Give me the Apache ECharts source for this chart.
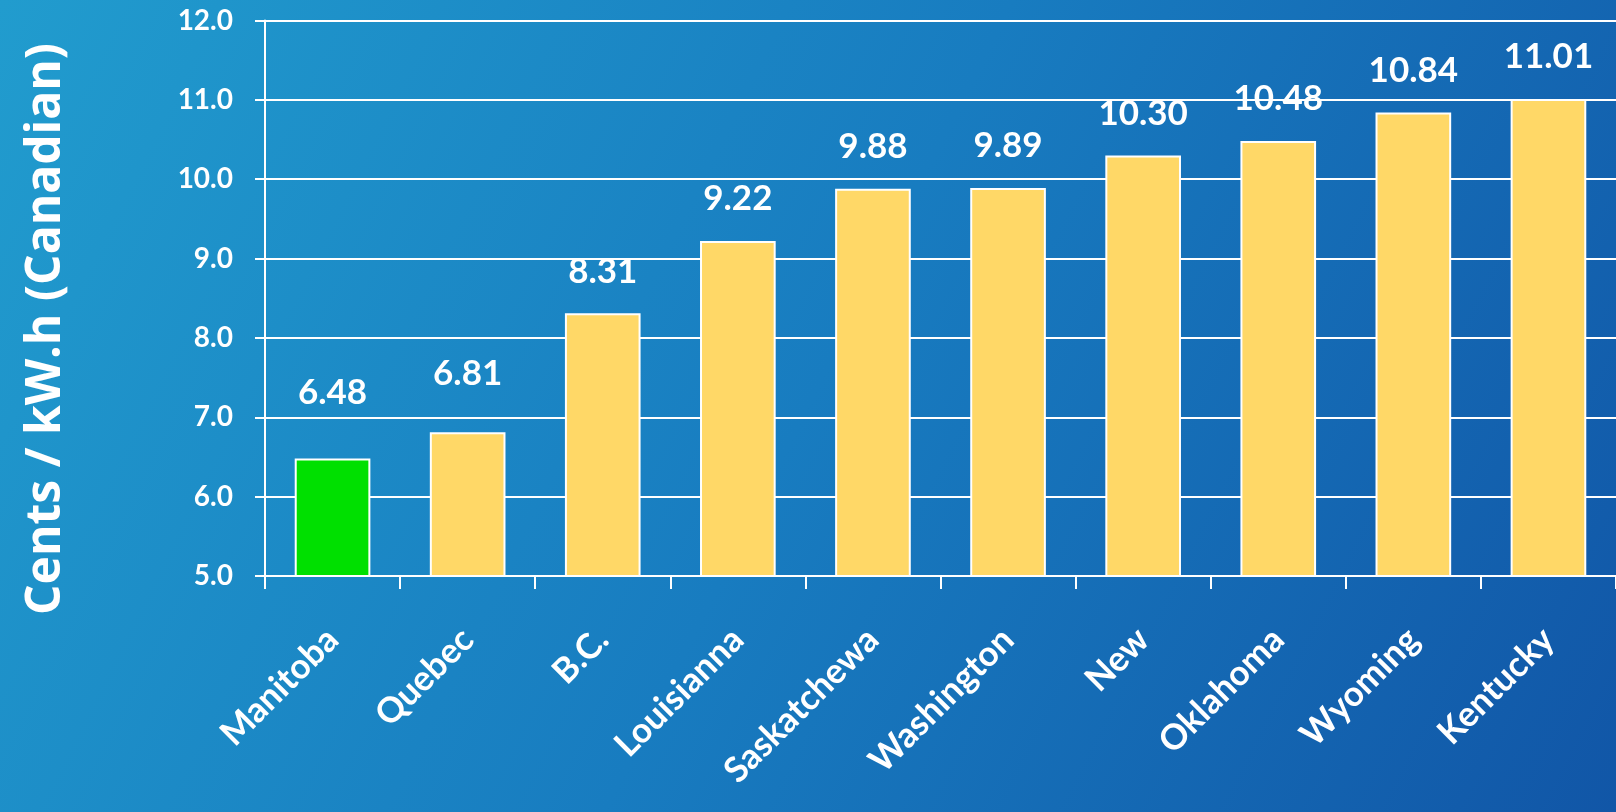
<!DOCTYPE html>
<html>
<head>
<meta charset="utf-8">
<script src="https://cdn.jsdelivr.net/npm/echarts@6/dist/echarts.min.js"></script>
<style>
  html, body { margin: 0; padding: 0; }
  #chart { width: 1616px; height: 812px; }
</style>
</head>
<body>
<div id="chart"></div>
<script>
// Residential electricity price comparison (cents per kW.h, Canadian dollars)
const regions = ['Manitoba', 'Quebec', 'B.C.', 'Louisianna', 'Saskatchewa', 'Washington', 'New', 'Oklahoma', 'Wyoming', 'Kentucky'];
const prices = [6.48, 6.81, 8.31, 9.22, 9.88, 9.89, 10.30, 10.48, 10.84, 11.01];
const yTicks = [5, 6, 7, 8, 9, 10, 11, 12];
const yTitle = 'Cents / kW.h (Canadian)';

const FONT = 'Lato, "Open Sans", sans-serif';
const HOME = '#00E000';
const OTHER = '#FFD867';
// extra lift for the first two value labels so they clear the gridlines
const labelDistance = [49, 42, 25, 25, 25, 25, 25, 25, 25, 25];

const chart = echarts.init(document.getElementById('chart'));

const barData = prices.map((v, i) => ({
  value: v,
  itemStyle: { color: i === 0 ? HOME : OTHER },
  label: { distance: labelDistance[i] }
}));

chart.setOption({
  backgroundColor: {
    type: 'linear', x: 0, y: 0, x2: 1, y2: 1,
    colorStops: [
      { offset: 0, color: '#219CCE' },
      { offset: 0.5, color: '#187CC0' },
      { offset: 1, color: '#1156A7' }
    ]
  },
  animation: false,
  grid: { left: 265, right: -4, top: 20.5, bottom: 236, containLabel: false },
  xAxis: {
    type: 'category',
    data: regions,
    axisLine: { lineStyle: { color: '#ffffff', width: 2 } },
    axisTick: { show: true, length: 13, alignWithLabel: false, lineStyle: { color: '#ffffff', width: 2 } },
    axisLabel: {
      rotate: 45,
      margin: 58,
      color: '#ffffff',
      fontFamily: FONT,
      fontWeight: 'bold',
      fontSize: 35,
      interval: 0
    }
  },
  yAxis: {
    type: 'value',
    min: yTicks[0],
    max: yTicks[yTicks.length - 1],
    interval: 1,
    axisLine: { show: true, lineStyle: { color: '#ffffff', width: 2 } },
    axisTick: { show: true, length: 10, lineStyle: { color: '#ffffff', width: 2 } },
    splitLine: { show: true, lineStyle: { color: '#ffffff', width: 2 } },
    axisLabel: {
      margin: 32,
      color: '#ffffff',
      fontFamily: FONT,
      fontWeight: 'bold',
      fontSize: 28,
      formatter: v => v.toFixed(1)
    }
  },
  graphic: [{
    type: 'text',
    x: 46,
    y: 329,
    rotation: Math.PI / 2,
    style: {
      text: yTitle,
      fill: '#ffffff',
      font: 'bold 48px "Open Sans", sans-serif',
      align: 'center',
      verticalAlign: 'middle'
    }
  }],
  series: [{
    type: 'bar',
    data: barData,
    barWidth: '56%',
    itemStyle: { borderColor: '#ffffff', borderWidth: 2 },
    label: {
      show: true,
      position: 'top',
      color: '#ffffff',
      fontFamily: FONT,
      fontWeight: 'bold',
      fontSize: 35,
      lineHeight: 34,
      formatter: p => p.value.toFixed(2)
    }
  }]
});
</script>
</body>
</html>
